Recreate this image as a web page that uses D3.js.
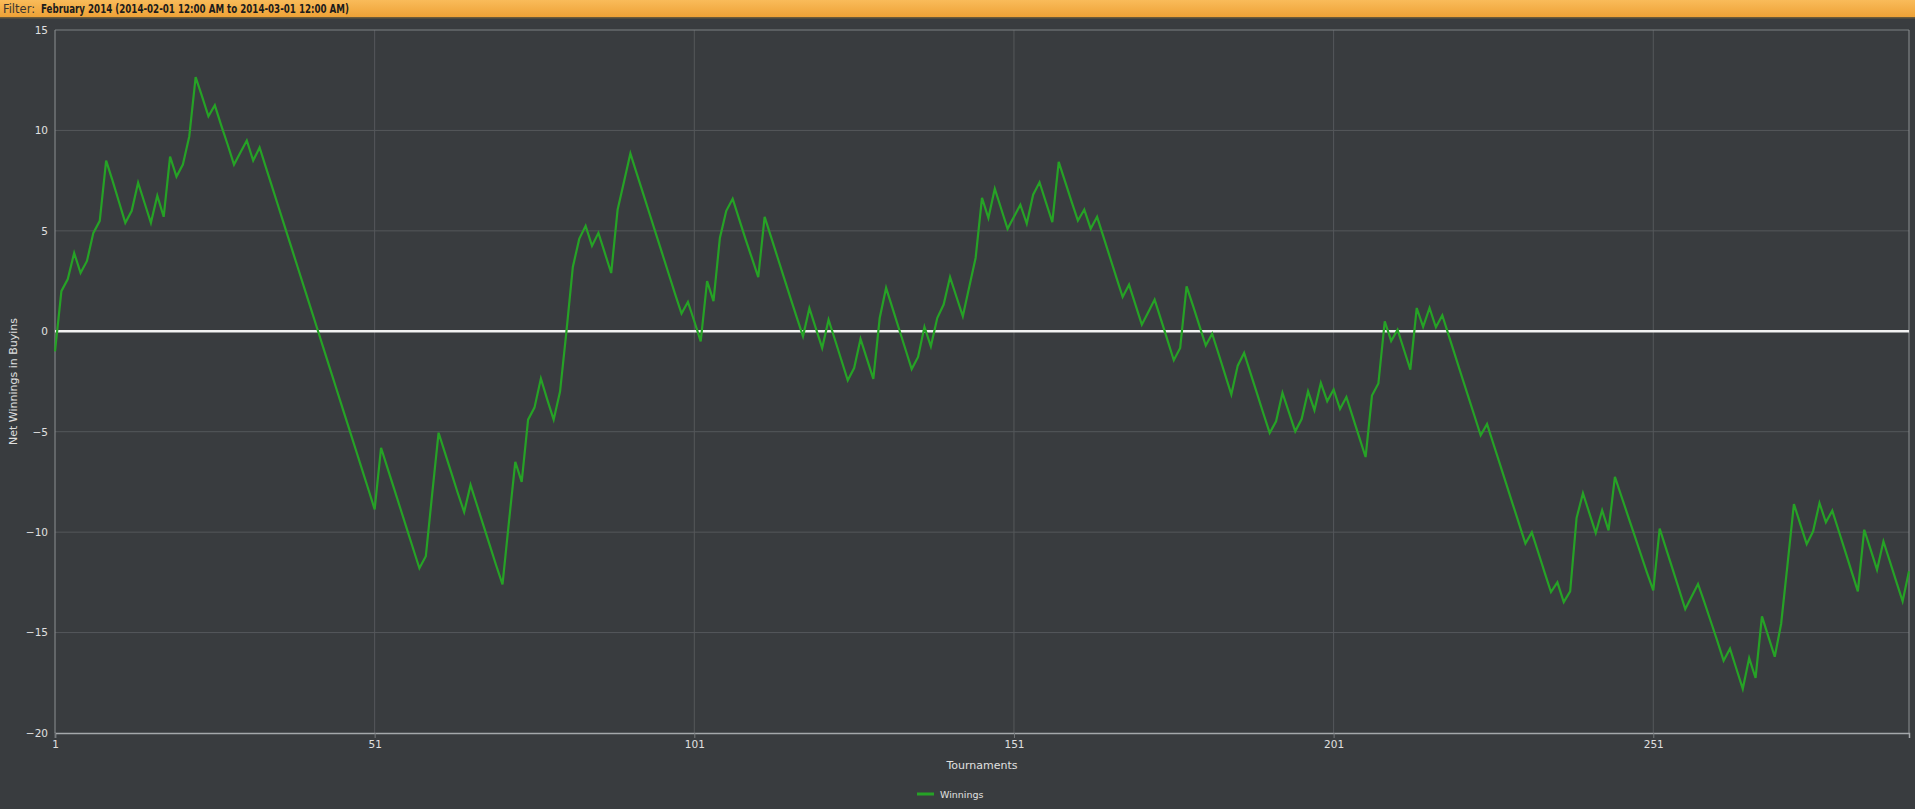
<!DOCTYPE html>
<html><head><meta charset="utf-8">
<script src="https://cdn.jsdelivr.net/npm/d3@7/dist/d3.min.js"></script>
<style>
html,body{margin:0;padding:0;background:#393c3f;overflow:hidden;}
svg{display:block;}
</style></head>
<body>
<svg id="chart" width="1915" height="809"></svg>
<script>
const filterLabel = "Filter:";
const filterText = "February 2014 (2014-02-01 12:00 AM to 2014-03-01 12:00 AM)";
const yTitle = "Net Winnings in Buyins";
const xTitle = "Tournaments";
const seriesName = "Winnings";
const xTicks = [1, 51, 101, 151, 201, 251];
const yTicks = [-20, -15, -10, -5, 0, 5, 10, 15];
const tournaments = d3.range(1, 292);
const winnings = [
 -1.0, 2.0, 2.6, 3.9, 2.9, 3.5, 4.9, 5.5, 8.5, 7.5,
 6.45, 5.4, 6.0, 7.4, 6.4, 5.4, 6.75, 5.7, 8.7, 7.7,
 8.3, 9.7, 12.65, 11.7, 10.7, 11.25, 10.25, 9.3, 8.3, 8.9,
 9.5, 8.5, 9.15, 8.15, 7.15, 6.15, 5.15, 4.15, 3.15, 2.15,
 1.15, 0.15, -0.85, -1.85, -2.85, -3.85, -4.85, -5.85, -6.85, -7.85,
 -8.87, -5.8, -6.8, -7.8, -8.8, -9.8, -10.8, -11.8, -11.2, -8.1,
 -5.05, -6.05, -7.05, -8.05, -9.0, -7.65, -8.65, -9.65, -10.65, -11.65,
 -12.6, -9.5, -6.5, -7.5, -4.4, -3.8, -2.35, -3.4, -4.4, -3.0,
 0.0, 3.2, 4.6, 5.25, 4.25, 4.9, 3.9, 2.9, 6.05, 7.45,
 8.85, 7.85, 6.85, 5.85, 4.85, 3.85, 2.85, 1.85, 0.88, 1.46,
 0.5, -0.5, 2.5, 1.5, 4.65, 6.0, 6.6, 5.6, 4.6, 3.65,
 2.7, 5.7, 4.7, 3.7, 2.7, 1.7, 0.72, -0.25, 1.15, 0.16,
 -0.83, 0.58, -0.42, -1.43, -2.44, -1.83, -0.38, -1.37, -2.37, 0.66,
 2.16, 1.15, 0.14, -0.87, -1.88, -1.28, 0.22, -0.75, 0.66, 1.33,
 2.7, 1.72, 0.75, 2.2, 3.65, 6.64, 5.64, 7.1, 6.1, 5.1,
 5.7, 6.3, 5.36, 6.8, 7.42, 6.42, 5.43, 8.43, 7.45, 6.47,
 5.51, 6.06, 5.11, 5.7, 4.7, 3.7, 2.7, 1.71, 2.32, 1.33,
 0.33, 0.95, 1.58, 0.58, -0.43, -1.44, -0.83, 2.24, 1.28, 0.28,
 -0.71, -0.12, -1.12, -2.13, -3.15, -1.71, -1.08, -2.08, -3.08, -4.08,
 -5.06, -4.48, -3.07, -4.02, -4.98, -4.37, -2.99, -3.93, -2.57, -3.48,
 -2.9, -3.87, -3.27, -4.27, -5.27, -6.26, -3.2, -2.6, 0.5, -0.48,
 0.08, -0.92, -1.91, 1.16, 0.22, 1.16, 0.2, 0.8, -0.2, -1.2,
 -2.2, -3.19, -4.18, -5.18, -4.62, -5.61, -6.6, -7.6, -8.59, -9.58,
 -10.57, -10.01, -11.0, -12.0, -12.98, -12.5, -13.48, -12.95, -9.3, -8.06,
 -9.05, -10.04, -8.91, -9.91, -7.25, -8.2, -9.15, -10.1, -11.05, -12.0,
 -12.9, -9.82, -10.82, -11.82, -12.82, -13.83, -13.2, -12.58, -13.5, -14.45,
 -15.4, -16.4, -15.8, -16.8, -17.8, -16.27, -17.26, -14.19, -15.2, -16.2,
 -14.56, -11.6, -8.6, -9.6, -10.6, -9.96, -8.55, -9.51, -8.93, -9.93,
 -10.93, -11.94, -12.95, -9.88, -10.87, -11.87, -10.46, -11.45, -12.45, -13.44,
 -11.95
];

const svg = d3.select("#chart");
const W = 1915, H = 809;
const L = 55, R = 1909, T = 30, B = 733;
const x = d3.scaleLinear().domain([1, 291]).range([L, R]);
const y = d3.scaleLinear().domain([-20, 15]).range([B, T]);
const FONT = "'DejaVu Sans', Verdana, sans-serif";
const HFONT = "'Liberation Sans Narrow', 'DejaVu Sans Condensed', sans-serif";

svg.append("rect").attr("width", W).attr("height", H).attr("fill", "#393c3f");

// header
const defs = svg.append("defs");
const g1 = defs.append("linearGradient").attr("id", "hdr").attr("x1", 0).attr("y1", 0).attr("x2", 0).attr("y2", 1);
g1.append("stop").attr("offset", "0%").attr("stop-color", "#f9bb5a");
g1.append("stop").attr("offset", "100%").attr("stop-color", "#eea236");
svg.append("rect").attr("x", 0).attr("y", 0).attr("width", W).attr("height", 17).attr("fill", "url(#hdr)");
svg.append("rect").attr("x", 0).attr("y", 17).attr("width", W).attr("height", 1.5).attr("fill", "#6b5a3a");
svg.append("text").attr("x", 3).attr("y", 13)
  .attr("font-family", HFONT).attr("font-size", 12).attr("fill", "#3a3530")
  .attr("textLength", 32).attr("lengthAdjust", "spacingAndGlyphs")
  .text(filterLabel);
svg.append("text").attr("x", 41).attr("y", 13)
  .attr("font-family", HFONT).attr("font-size", 12).attr("font-weight", "bold").attr("fill", "#1c1c1c")
  .attr("textLength", 308).attr("lengthAdjust", "spacingAndGlyphs")
  .text(filterText);

// gridlines
const grid = svg.append("g");
grid.selectAll("line.h").data(yTicks.filter(v => v > -20 && v < 15 && v !== 0)).enter().append("line")
  .attr("x1", L).attr("x2", R).attr("y1", d => y(d)).attr("y2", d => y(d))
  .attr("stroke", "#55585b").attr("stroke-width", 1);
grid.selectAll("line.v").data(xTicks.filter(v => v > 1)).enter().append("line")
  .attr("y1", T).attr("y2", B).attr("x1", d => x(d)).attr("x2", d => x(d))
  .attr("stroke", "#55585b").attr("stroke-width", 1);

// frame
svg.append("line").attr("x1", L).attr("x2", R).attr("y1", T).attr("y2", T).attr("stroke", "#7d8083").attr("stroke-width", 1);
svg.append("line").attr("x1", R).attr("x2", R).attr("y1", T).attr("y2", B).attr("stroke", "#8d9093").attr("stroke-width", 1);
svg.append("line").attr("x1", L).attr("x2", L).attr("y1", T).attr("y2", B).attr("stroke", "#8d9093").attr("stroke-width", 1);

// axes
const yAxis = d3.axisLeft(y).tickValues(yTicks).tickSize(0).tickPadding(7).tickFormat(d3.format("d"));
const ya = svg.append("g").attr("transform", `translate(${L},0)`).call(yAxis);
ya.select(".domain").remove();
ya.selectAll("text").attr("fill", "#e0e0e0").attr("font-family", FONT).attr("font-size", 10.5);

const xAxis = d3.axisBottom(x).tickValues(xTicks).tickSize(5).tickPadding(3).tickFormat(d3.format("d"));
const xa = svg.append("g").attr("transform", `translate(0,${B})`).call(xAxis);
xa.select(".domain").attr("stroke", "#a5a8ab").attr("stroke-width", 1.5);
xa.selectAll(".tick line").attr("stroke", "#75787b");
xa.selectAll("text").attr("fill", "#e0e0e0").attr("font-family", FONT).attr("font-size", 10.5);

// titles
svg.append("text").attr("x", (L + R) / 2).attr("y", 769).attr("text-anchor", "middle")
  .attr("fill", "#e0e0e0").attr("font-family", FONT).attr("font-size", 11).text(xTitle);
svg.append("text").attr("transform", `translate(17,${(T + B) / 2}) rotate(-90)`).attr("text-anchor", "middle")
  .attr("fill", "#e0e0e0").attr("font-family", FONT).attr("font-size", 11).text(yTitle);

// zero line
svg.append("line").attr("x1", L).attr("x2", R).attr("y1", y(0)).attr("y2", y(0))
  .attr("stroke", "#f2f2f2").attr("stroke-width", 2.5);

// series
const data = tournaments.map((t, i) => ({t, v: winnings[i]}));
const line = d3.line().x(d => x(d.t)).y(d => y(d.v));
svg.append("path").datum(data).attr("d", line)
  .attr("fill", "none").attr("stroke", "#26a226").attr("stroke-width", 2.2).attr("stroke-linejoin", "miter");

// legend
const lg = svg.append("g").attr("transform", "translate(917,794)");
lg.append("line").attr("x1", 0).attr("x2", 17).attr("y1", 0).attr("y2", 0).attr("stroke", "#26a226").attr("stroke-width", 3);
lg.append("text").attr("x", 23).attr("y", 3.5).attr("fill", "#e0e0e0")
  .attr("font-family", FONT).attr("font-size", 9.5).text(seriesName);
</script>
</body></html>
